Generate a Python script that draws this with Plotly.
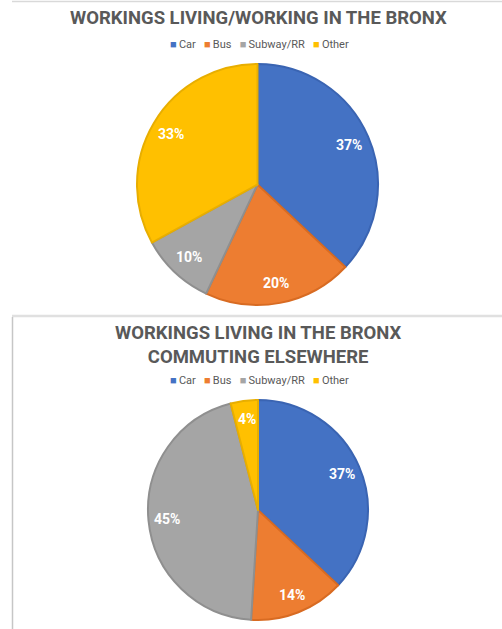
import math
import plotly.graph_objects as go

W, H = 502, 629

# Commute mode shares (%) for Bronx workers
categories = ["Car", "Bus", "Subway/RR", "Other"]
living_working_bronx = [37, 20, 10, 33]
commuting_elsewhere = [37, 14, 45, 4]

titles = [
    "WORKINGS LIVING/WORKING IN THE BRONX",
    "WORKINGS LIVING IN THE BRONX<br>COMMUTING ELSEWHERE",
]

colors = ["#4472C4", "#ED7D31", "#A5A5A5", "#FFC000"]
edge_colors = ["#3A64B2", "#D86B22", "#8F8F8F", "#E8AE00"]
TEXT_GREY = "#595959"
FONT = "Roboto"

# Pixel geometry of each panel: pie centre, radius, title centre y, legend y
panels = [
    dict(values=living_working_bronx, title=titles[0], cx=257.5, cy=184.5, r=120.5,
         title_y=18, legend_y=44),
    dict(values=commuting_elsewhere, title=titles[1], cx=258, cy=510, r=110,
         title_y=345, legend_y=381),
]


def px(x):
    return x / W


def py(y):
    return 1 - y / H


fig = go.Figure()
annotations = []

legend_text = "&nbsp;&nbsp;&nbsp;".join(
    f'<span style="color:{c}">■</span>\u2009{name}' for name, c in zip(categories, colors)
)

for p in panels:
    cx, cy, r = p["cx"], p["cy"], p["r"]
    vals = p["values"]
    fig.add_trace(go.Pie(
        labels=categories,
        values=vals,
        sort=False,
        direction="clockwise",
        rotation=0,
        marker=dict(colors=colors, line=dict(color=edge_colors, width=2)),
        textinfo="none",
        hoverinfo="label+percent",
        domain=dict(x=[px(cx - r), px(cx + r)], y=[py(cy + r), py(cy - r)]),
        showlegend=False,
    ))

    # percentage labels along each slice's bisector
    total = sum(vals)
    cum = 0
    for v in vals:
        theta = 2 * math.pi * (cum + v / 2) / total
        cum += v
        k = 0.83
        lx = cx + k * r * math.sin(theta)
        ly = cy - k * r * math.cos(theta)
        annotations.append(dict(
            x=px(lx), y=py(ly), xref="paper", yref="paper",
            text=f"<b>{round(100 * v / total)}%</b>", showarrow=False,
            xanchor="center", yanchor="middle",
            font=dict(family=FONT, size=14, color="white"),
        ))

    annotations.append(dict(
        x=px(258), y=py(p["title_y"]), xref="paper", yref="paper",
        text=f"<b>{p['title']}</b>", showarrow=False,
        xanchor="center", yanchor="middle",
        font=dict(family=FONT, size=18.5, color=TEXT_GREY),
    ))
    annotations.append(dict(
        x=px(259), y=py(p["legend_y"]), xref="paper", yref="paper",
        text=legend_text, showarrow=False,
        xanchor="center", yanchor="middle",
        font=dict(family=FONT, size=11, color=TEXT_GREY),
    ))

shapes = [
    dict(type="line", xref="paper", yref="paper",
         x0=px(12), x1=1, y0=py(1.5), y1=py(1.5),
         line=dict(color="#D9D9D9", width=1.5)),
    dict(type="line", xref="paper", yref="paper",
         x0=px(12), x1=1, y0=py(316), y1=py(316),
         line=dict(color="#E0E0E0", width=2.5)),
    dict(type="line", xref="paper", yref="paper",
         x0=px(12.5), x1=px(12.5), y0=py(317), y1=0,
         line=dict(color="#C6C6C6", width=1.5)),
]

fig.update_layout(
    width=W, height=H,
    margin=dict(l=0, r=0, t=0, b=0),
    paper_bgcolor="white",
    plot_bgcolor="white",
    showlegend=False,
    annotations=annotations,
    shapes=shapes,
)

fig.write_html("out.html")
